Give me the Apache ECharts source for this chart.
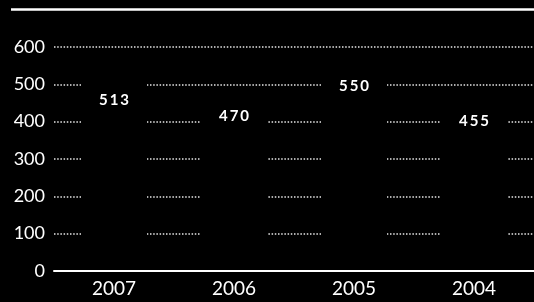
<!DOCTYPE html>
<html><head><meta charset="utf-8">
<script src="https://cdn.jsdelivr.net/npm/echarts@6/dist/echarts.min.js"></script>
<style>html,body{margin:0;padding:0;background:#000;}#c{width:534px;height:302px;}</style>
</head><body><div id="c"></div>
<script>
const categories = ['2007', '2006', '2005', '2004'];
const values = [513, 470, 550, 455];
const yTicks = [0, 100, 200, 300, 400, 500, 600];

const chart = echarts.init(document.getElementById('c'), null, {renderer: 'canvas'});
const font = 'Lato, "DejaVu Sans", sans-serif';
chart.setOption({
  backgroundColor: '#000',
  animation: false,
  grid: {left: 54, right: -4, top: 47, bottom: 31, containLabel: false},
  graphic: [{
    type: 'line', shape: {x1: 11, y1: 9.5, x2: 534, y2: 9.5},
    style: {stroke: '#fff', lineWidth: 2.5}, silent: true
  }],
  xAxis: {
    type: 'category', data: categories, z: 5,
    axisLine: {show: true, lineStyle: {color: '#fff', width: 2}},
    axisTick: {show: false},
    axisLabel: {color: '#fff', fontFamily: font, fontSize: 19, margin: 8}
  },
  yAxis: {
    type: 'value', min: yTicks[0], max: yTicks[yTicks.length - 1], interval: 100,
    axisLine: {show: false}, axisTick: {show: false},
    axisLabel: {color: '#fff', fontFamily: font, fontSize: 18, margin: 9},
    splitLine: {show: true, lineStyle: {color: '#e8e8e8', width: 1.5, type: [1.5, 1.7]}}
  },
  series: [{
    type: 'bar', data: values, barWidth: 66,
    itemStyle: {color: '#000'},
    label: {
      show: true, position: 'insideTop', distance: 13,
      color: '#fff', fontFamily: font, fontSize: 15, fontWeight: 'bold',
      formatter: p => String(p.value).split('').join('\u2009')
    }
  }]
});
</script></body></html>
